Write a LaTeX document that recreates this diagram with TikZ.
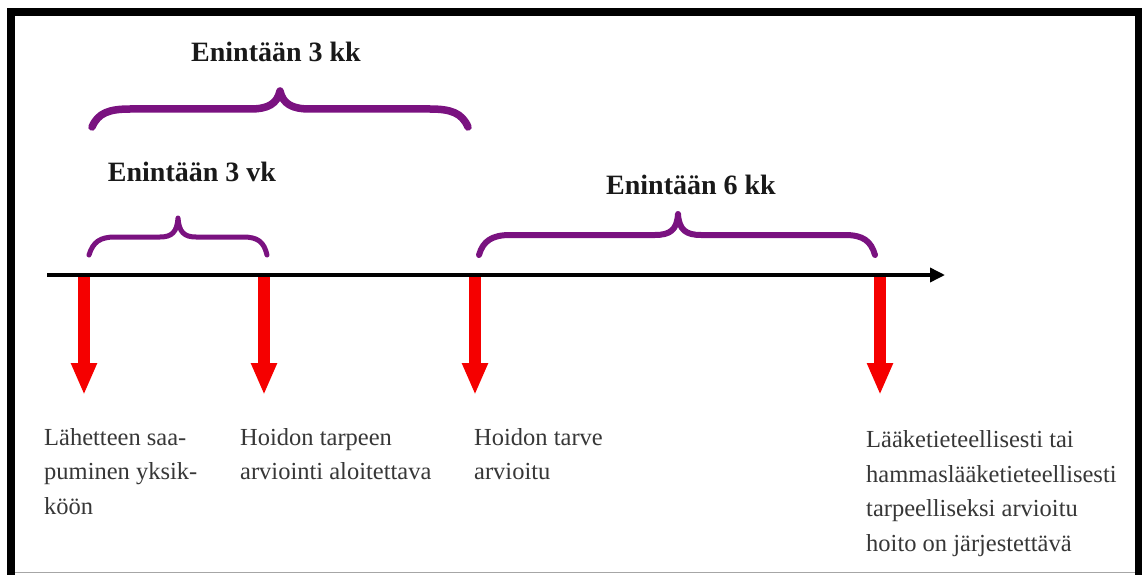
\documentclass[tikz,border=0pt]{standalone}
\usepackage{fontspec}
\setmainfont{Liberation Serif}
\usetikzlibrary{arrows.meta}
\definecolor{bracepurple}{RGB}{122,18,128}
\definecolor{arrowred}{RGB}{245,0,0}
\definecolor{textgray}{RGB}{55,55,55}
\tikzset{
  bracestyle/.style={draw=bracepurple, line cap=round, line join=round},
  redarrow/.style={draw=arrowred, line width=12pt, -{Triangle[width=24pt,length=32pt]}},
  axisline/.style={draw=black, line width=3.5pt, -{Triangle[width=14pt,length=15pt]}},
  heading/.style={font=\fontsize{28}{32}\selectfont\bfseries, text=black!90, inner sep=0pt},
  caption/.style={font=\fontsize{24.5}{34.5}\selectfont, text=textgray, align=left, inner sep=0pt, anchor=base west},
}
\begin{document}
\begin{tikzpicture}[x=1pt,y=-1pt]
\useasboundingbox (0,0) rectangle (1142,575);
% frame
\fill[white] (0,0) rectangle (1142,575);
\fill[black] (7,8) rectangle (1142,16);
\fill[black] (7,8) rectangle (15,575);
\fill[black] (1135,8) rectangle (1142,575);
\draw[gray!70, line width=1.5pt] (15,572.5) -- (1135,572.5);

% timeline points
\coordinate (a0) at (47,275);
\coordinate (aE) at (945,275);
\coordinate (t1) at (84,276);
\coordinate (t2) at (264,276);
\coordinate (t3) at (475,276);
\coordinate (t4) at (880,276);
\coordinate (b1) at (84,395);
\coordinate (b2) at (264,395);
\coordinate (b3) at (475,395);
\coordinate (b4) at (880,395);

\draw[redarrow] (t1) -- (b1);
\draw[redarrow] (t2) -- (b2);
\draw[redarrow] (t3) -- (b3);
\draw[redarrow] (t4) -- (b4);
\draw[axisline] (a0) -- (aE);

% braces
\draw[bracestyle, line width=7.5pt] (92,127) .. controls (98,113) and (109,109) .. (130,109) -- (250,109) .. controls (268,109) and (277,104) .. (280,91) .. controls (283,104) and (292,109) .. (310,109) -- (430,109) .. controls (451,109) and (462,113) .. (468,127);
\draw[bracestyle, line width=5pt] (89,255) .. controls (93,242) and (100,237) .. (115,237) -- (160,237) .. controls (172,237) and (177,232) .. (178,218) .. controls (179,232) and (184,237) .. (196,237) -- (243,237) .. controls (258,237) and (264,242) .. (267,255);
\draw[bracestyle, line width=6pt] (479,255) .. controls (483,241) and (492,235) .. (510,235) -- (655,235) .. controls (670,235) and (677,230) .. (678,214) .. controls (679,230) and (686,235) .. (701,235) -- (845,235) .. controls (863,235) and (871,241) .. (875,255);

% headings
\node[heading] (h1) at (276,52) {Enintään 3 kk};
\node[heading] (h2) at (192,172) {Enintään 3 vk};
\node[heading] (h3) at (691,185) {Enintään 6 kk};

% captions (base anchor = baseline of the last line)
\node[caption] (c1) at (44,514) {Lähetteen saa-\\puminen yksik-\\köön};
\node[caption] (c2) at (240,479.5) {Hoidon tarpeen\\arviointi aloitettava};
\node[caption] (c3) at (474,479.5) {Hoidon tarve\\arvioitu};
\node[caption] (c4) at (866,551) {Lääketieteellisesti tai\\hammaslääketieteellisesti\\tarpeelliseksi arvioitu\\hoito on järjestettävä};
\end{tikzpicture}
\end{document}
